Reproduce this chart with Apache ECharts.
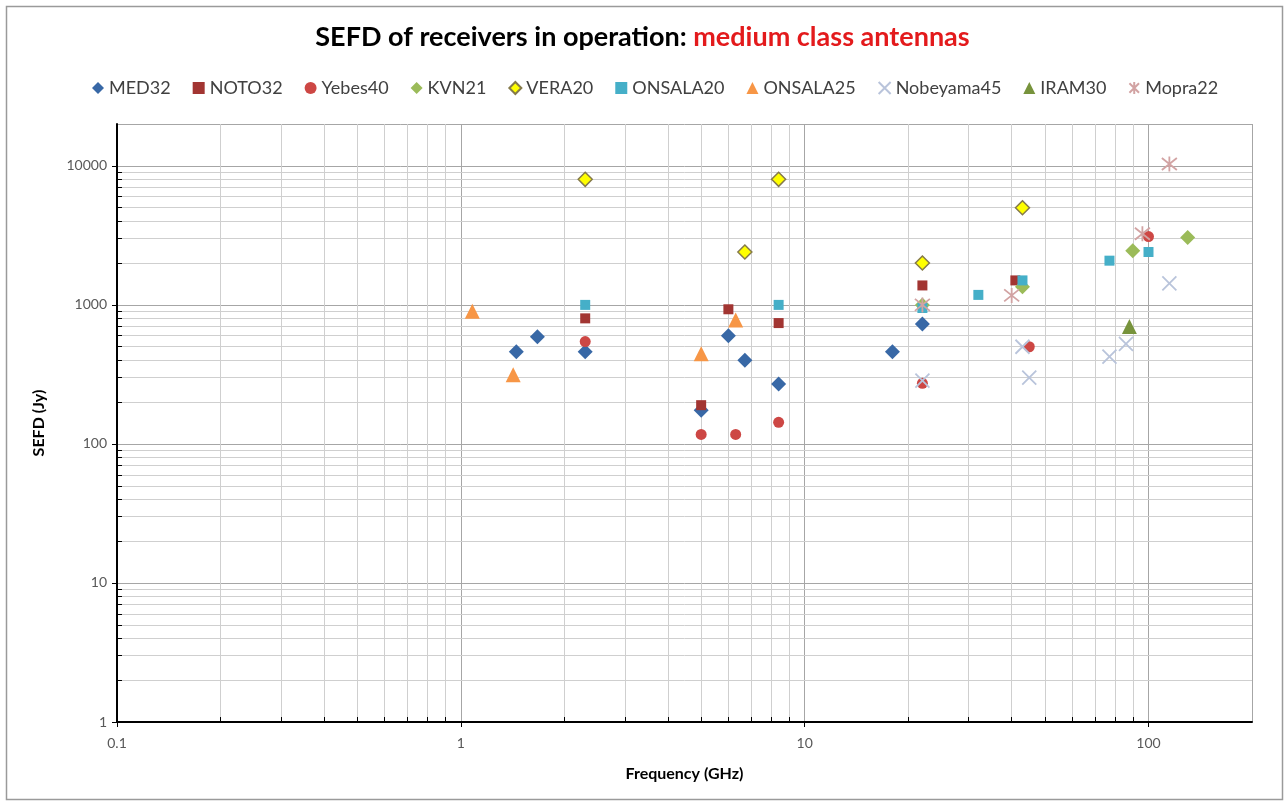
<!DOCTYPE html>
<html>
<head>
<meta charset="utf-8">
<script src="https://cdn.jsdelivr.net/npm/echarts@6/dist/echarts.min.js"></script>
<style>
html,body{margin:0;padding:0;background:#fff;}
#chart{width:1285px;height:802px;}
</style>
</head>
<body>
<div id="chart"></div>
<script>
// ---------- DATA ----------
const seriesNames = ['MED32','NOTO32','Yebes40','KVN21','VERA20','ONSALA20','ONSALA25','Nobeyama45','IRAM30','Mopra22'];
// [frequency GHz, SEFD Jy]
const med32      = [[1.45,460],[1.67,590],[2.3,460],[5.0,175],[6.0,600],[6.7,400],[8.4,270],[18,460],[22,730]];
const noto32     = [[2.3,800],[5.0,190],[6.0,930],[8.4,740],[22,1380],[41,1500]];
const yebes40    = [[2.3,545],[5.0,117],[6.3,117],[8.4,143],[22,273],[45,500],[100,3100]];
const kvn21      = [[22,1000],[43,1350],[90,2450],[130,3050]];
const vera20     = [[2.3,8000],[6.7,2400],[8.4,8000],[22,2000],[43,5000]];
const onsala20   = [[2.3,1000],[8.4,1000],[22,950],[32,1180],[43,1500],[77,2080],[100,2400]];
const onsala25   = [[1.08,900],[1.42,315],[5.0,445],[6.3,780]];
const nobeyama45 = [[22,285],[43,500],[45,300],[77,425],[86,525],[115,1430]];
const iram30     = [[88,700]];
const mopra22    = [[22,1000],[40,1170],[96,3250],[115,10300]];

// axis ticks
const xMajorLabels = [0.1, 1, 10, 100];
const yMajorLabels = [1, 10, 100, 1000, 10000];
const xMinor = [0.2,0.3,0.4,0.5,0.6,0.7,0.8,0.9, 2,3,4,5,6,7,8,9, 20,30,40,50,60,70,80,90];
const yMinor = [2,3,4,5,6,7,8,9, 20,30,40,50,60,70,80,90, 200,300,400,500,600,700,800,900,
                2000,3000,4000,5000,6000,7000,8000,9000];
const xMin = 0.1, xMax = 200, yMin = 1, yMax = 20000;

// ---------- STYLE ----------
const allData = [med32, noto32, yebes40, kvn21, vera20, onsala20, onsala25, nobeyama45, iram30, mopra22];
const colors = ['#3868A6','#A23532','#CD4744','#9BBB59','#FFFF00','#45AFC8','#F79646','#B9C4DB','#77933C','#D2A3A3'];
const symbols = ['diamond','rect','circle','diamond','diamond','rect','triangle',
                 'path://M0,0L10,10M0,10L10,0','triangle','path://M1,1L9,9M1,9L9,1M5,0L5,10'];
const sizes = [15,10,11,15,14,10,15,14,15,15];

const chart = echarts.init(document.getElementById('chart'), null, {renderer:'canvas'});

function isPow10(v){ const l = Math.log10(v); return Math.abs(l - Math.round(l)) < 1e-6; }
function fmt(v){
  if(!isPow10(v)) return '';
  const r = Math.round(Math.log10(v));
  return r < 0 ? String(Math.pow(10, r).toFixed(-r)) : String(Math.pow(10, r));
}

const dataSeries = seriesNames.map((name, i) => {
  const isStroke = (i === 7 || i === 9);
  const itemStyle = isStroke
    ? {color: colors[i], borderColor: colors[i], borderWidth: 1.8, opacity: 1}
    : (i === 4 ? {color: colors[i], borderColor: '#857A4A', borderWidth: 1.5, opacity: 1}
               : {color: colors[i], opacity: 1});
  return {
    name: name, type: 'scatter', data: allData[i],
    symbol: symbols[i], symbolSize: sizes[i],
    itemStyle: itemStyle, z: 5, emphasis: {disabled: true}
  };
});

const minorLineStyle = {color: '#cfcfcf', width: 1, type: 'solid'};
const tickLen = {x: 1.086, y: 0.1034};
const gridHelper = {
  name: '_grid', type: 'scatter', data: [], z: 1, silent: true,
  markLine: {
    silent: true, symbol: ['none','none'], label: {show: false},
    lineStyle: minorLineStyle, animation: false,
    data: [].concat(
      xMinor.map(v => ({xAxis: v})),
      yMinor.map(v => ({yAxis: v}))
    )
  }
};
const tickHelper = {
  name: '_ticks', type: 'scatter', data: [], z: 4, silent: true,
  markLine: {
    silent: true, symbol: ['none','none'], label: {show: false},
    lineStyle: {color: '#000', width: 1, type: 'solid'}, animation: false,
    data: [].concat(
      xMinor.map(v => [{coord: [v, yMin]}, {coord: [v, tickLen.x]}]),
      yMinor.map(v => [{coord: [xMin, v]}, {coord: [tickLen.y, v]}])
    )
  }
};

const option = {
  animation: false,
  backgroundColor: '#fff',
  title: {
    left: 'center', top: 19,
    text: '{a|SEFD of receivers in operation: }{b|medium class antennas}',
    textStyle: {
      rich: {
        a: {fontFamily: 'Lato', fontWeight: 'bold', fontSize: 27, color: '#000'},
        b: {fontFamily: 'Lato', fontWeight: 'bold', fontSize: 27, color: '#E31A1C'}
      }
    }
  },
  legend: {
    data: seriesNames, top: 74, left: 87,
    itemWidth: 12, itemHeight: 12, itemGap: 22,
    textStyle: {fontFamily: 'Lato', fontSize: 18, color: '#404040'}
  },
  grid: {left: 117, right: 33, top: 124, bottom: 80, containLabel: false},
  xAxis: {
    type: 'log', logBase: 10, min: xMin, max: xMax,
    name: 'Frequency (GHz)', nameLocation: 'middle', nameGap: 44,
    nameTextStyle: {fontFamily: 'Lato', fontWeight: 'bold', fontSize: 16, color: '#000'},
    axisLine: {show: true, lineStyle: {color: '#000', width: 2}},
    axisTick: {show: true, inside: false, length: 5, lineStyle: {color: '#000'}},
    axisLabel: {formatter: fmt, fontFamily: 'Lato', fontSize: 14, color: '#595959', margin: 14,
                showMaxLabel: false},
    splitLine: {show: true, lineStyle: {color: '#a6a6a6', width: 1}}
  },
  yAxis: {
    type: 'log', logBase: 10, min: yMin, max: yMax,
    name: 'SEFD (Jy)', nameLocation: 'middle', nameGap: 70, nameRotate: 90,
    nameTextStyle: {fontFamily: 'Lato', fontWeight: 'bold', fontSize: 16, color: '#000'},
    axisLine: {show: true, lineStyle: {color: '#000', width: 2}},
    axisTick: {show: true, inside: false, length: 5, lineStyle: {color: '#000'}},
    axisLabel: {formatter: fmt, fontFamily: 'Lato', fontSize: 14, color: '#595959', margin: 10,
                showMaxLabel: false},
    splitLine: {show: true, lineStyle: {color: '#a6a6a6', width: 1}}
  },
  graphic: [{
    type: 'rect', left: 4, top: 4, silent: true, z: -10,
    shape: {width: 1276, height: 793},
    style: {fill: 'none', stroke: '#9a9a9a', lineWidth: 1.5}
  }],
  series: [gridHelper, tickHelper].concat(dataSeries)
};
chart.setOption(option);
</script>
</body>
</html>
